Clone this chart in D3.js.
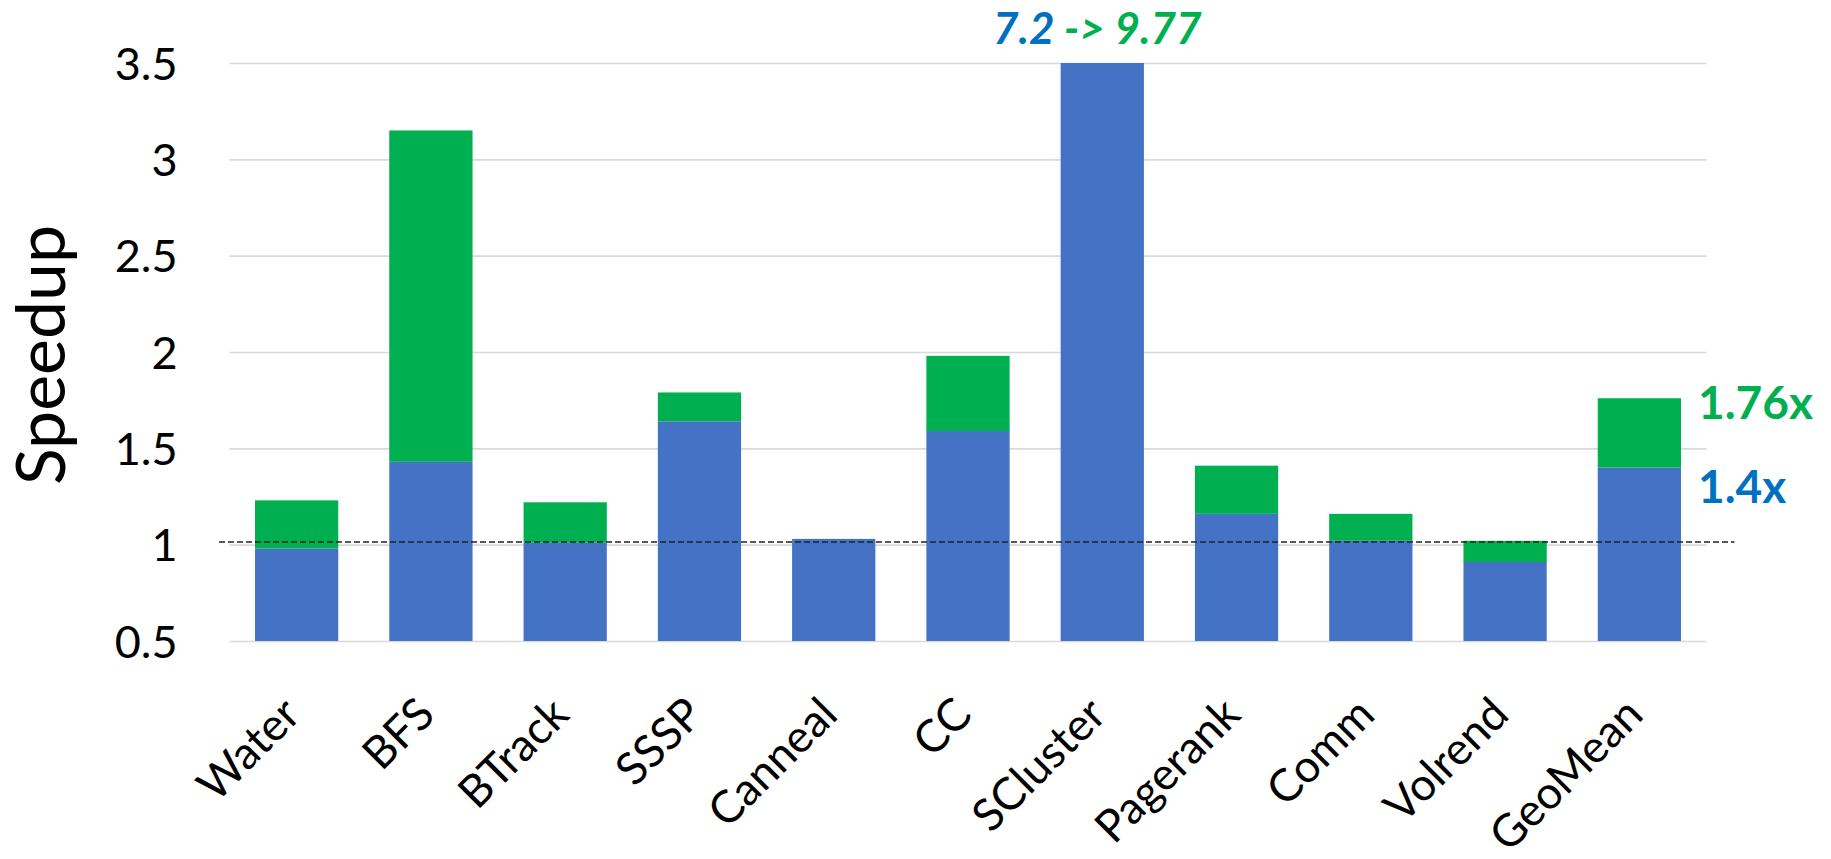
<!DOCTYPE html>
<html>
<head>
<meta charset="utf-8">
<script src="https://cdn.jsdelivr.net/npm/d3@7"></script>
<style>
  html, body { margin: 0; padding: 0; background: #fff; }
  text { font-family: Lato, "Open Sans", sans-serif; }
</style>
</head>
<body>
<script>
// chart data
const categories = ["Water", "BFS", "BTrack", "SSSP", "Canneal", "CC", "SCluster", "Pagerank", "Comm", "Volrend", "GeoMean"];
const baseSpeedup = [0.98, 1.43, 1.01, 1.64, 1.03, 1.59, 7.2, 1.16, 1.02, 0.91, 1.4];
const fullSpeedup = [1.23, 3.15, 1.22, 1.79, 1.03, 1.98, 9.77, 1.41, 1.16, 1.02, 1.76];
const yTicks = [0.5, 1, 1.5, 2, 2.5, 3, 3.5];
const yTickLabels = ["0.5", "1", "1.5", "2", "2.5", "3", "3.5"];
const refLine = 1.014;

const width = 1831, height = 859;
const margin = { top: 63, left: 229.5, right: 124.5, bottom: 218 };
const plotW = width - margin.left - margin.right;
const plotH = height - margin.top - margin.bottom;

const BLUE = "#4472C4", GREEN = "#00B050", TEXT_BLUE = "#0070C0";

const svg = d3.select("body").append("svg")
    .attr("width", width)
    .attr("height", height);

const g = svg.append("g").attr("transform", `translate(${margin.left},${margin.top})`);

const x = d3.scaleBand()
    .domain(categories)
    .range([0, plotW])
    .paddingInner(0.38)
    .paddingOuter(0.19);

const y = d3.scaleLinear()
    .domain([0.5, 3.5])
    .range([plotH, 0]);

// gridlines
const grid = g.append("g")
    .call(d3.axisLeft(y).tickValues(yTicks).tickSize(-plotW).tickFormat(""));
grid.select(".domain").remove();
grid.selectAll("line").attr("stroke", "#d9d9d9").attr("stroke-width", 1.6);

// y tick labels
const yAxis = g.append("g")
    .call(d3.axisLeft(y).tickValues(yTicks).tickSize(0).tickPadding(52)
        .tickFormat((d, i) => yTickLabels[i]));
yAxis.select(".domain").remove();
yAxis.selectAll("text")
    .attr("font-family", "Lato, sans-serif")
    .attr("font-size", 45)
    .attr("fill", "#000")
    .attr("dy", "0.36em");

// y axis title
svg.append("text")
    .attr("transform", `translate(65,355) rotate(-90)`)
    .attr("text-anchor", "middle")
    .attr("font-size", 68)
    .attr("fill", "#000")
    .text("Speedup");

// clip bars to the plot area (SCluster runs off the top)
svg.append("defs").append("clipPath").attr("id", "plotClip")
  .append("rect").attr("x", 0).attr("y", 0).attr("width", plotW).attr("height", plotH);

const bars = g.append("g").attr("clip-path", "url(#plotClip)");
const rows = categories.map((c, i) => ({ c, base: baseSpeedup[i], full: fullSpeedup[i] }));

bars.selectAll("rect.base")
    .data(rows)
  .enter().append("rect")
    .attr("class", "base")
    .attr("x", d => x(d.c))
    .attr("width", x.bandwidth())
    .attr("y", d => y(d.base))
    .attr("height", d => y(0.5) - y(d.base))
    .attr("fill", BLUE);

bars.selectAll("rect.extra")
    .data(rows.filter(d => d.full > d.base))
  .enter().append("rect")
    .attr("class", "extra")
    .attr("x", d => x(d.c))
    .attr("width", x.bandwidth())
    .attr("y", d => y(d.full))
    .attr("height", d => y(d.base) - y(d.full))
    .attr("fill", GREEN);

// dashed reference line at 1x
g.append("line")
    .attr("x1", x.range()[0] - 10.5)
    .attr("x2", x.range()[1] + 28)
    .attr("y1", y(refLine))
    .attr("y2", y(refLine))
    .attr("stroke", "#222")
    .attr("stroke-width", 1.4)
    .attr("stroke-dasharray", "6,3");

// category labels
const xAxis = g.append("g")
    .attr("transform", `translate(0,${plotH})`)
    .call(d3.axisBottom(x).tickSize(0));
xAxis.select(".domain").remove();
xAxis.selectAll("text")
    .attr("font-family", "Lato, sans-serif")
    .attr("font-size", 45)
    .attr("fill", "#000")
    .attr("x", 0)
    .attr("y", 0)
    .attr("dy", 0)
    .attr("text-anchor", "end")
    .attr("transform", "translate(6,76) rotate(-45)");

// SCluster off-scale annotation
const sc = categories.indexOf("SCluster");
const scText = g.append("text")
    .attr("x", x("SCluster") + x.bandwidth() / 2 - 5)
    .attr("y", y(3.5) - 19)
    .attr("text-anchor", "middle")
    .attr("font-size", 44)
    .attr("font-weight", "bold")
    .attr("font-style", "italic");
scText.append("tspan").attr("fill", TEXT_BLUE).text(`${baseSpeedup[sc]}`);
scText.append("tspan").attr("fill", GREEN).text(` -> ${fullSpeedup[sc]}`);

// GeoMean labels
const gm = categories.indexOf("GeoMean");
const gmX = x("GeoMean") + x.bandwidth() + 17;
g.append("text")
    .attr("x", gmX)
    .attr("y", y(fullSpeedup[gm]) + 21)
    .attr("font-size", 46)
    .attr("font-weight", "bold")
    .attr("fill", GREEN)
    .text(`${fullSpeedup[gm]}x`);
g.append("text")
    .attr("x", gmX)
    .attr("y", y(baseSpeedup[gm]) + 35)
    .attr("font-size", 46)
    .attr("font-weight", "bold")
    .attr("fill", TEXT_BLUE)
    .text(`${baseSpeedup[gm]}x`);
</script>
</body>
</html>
